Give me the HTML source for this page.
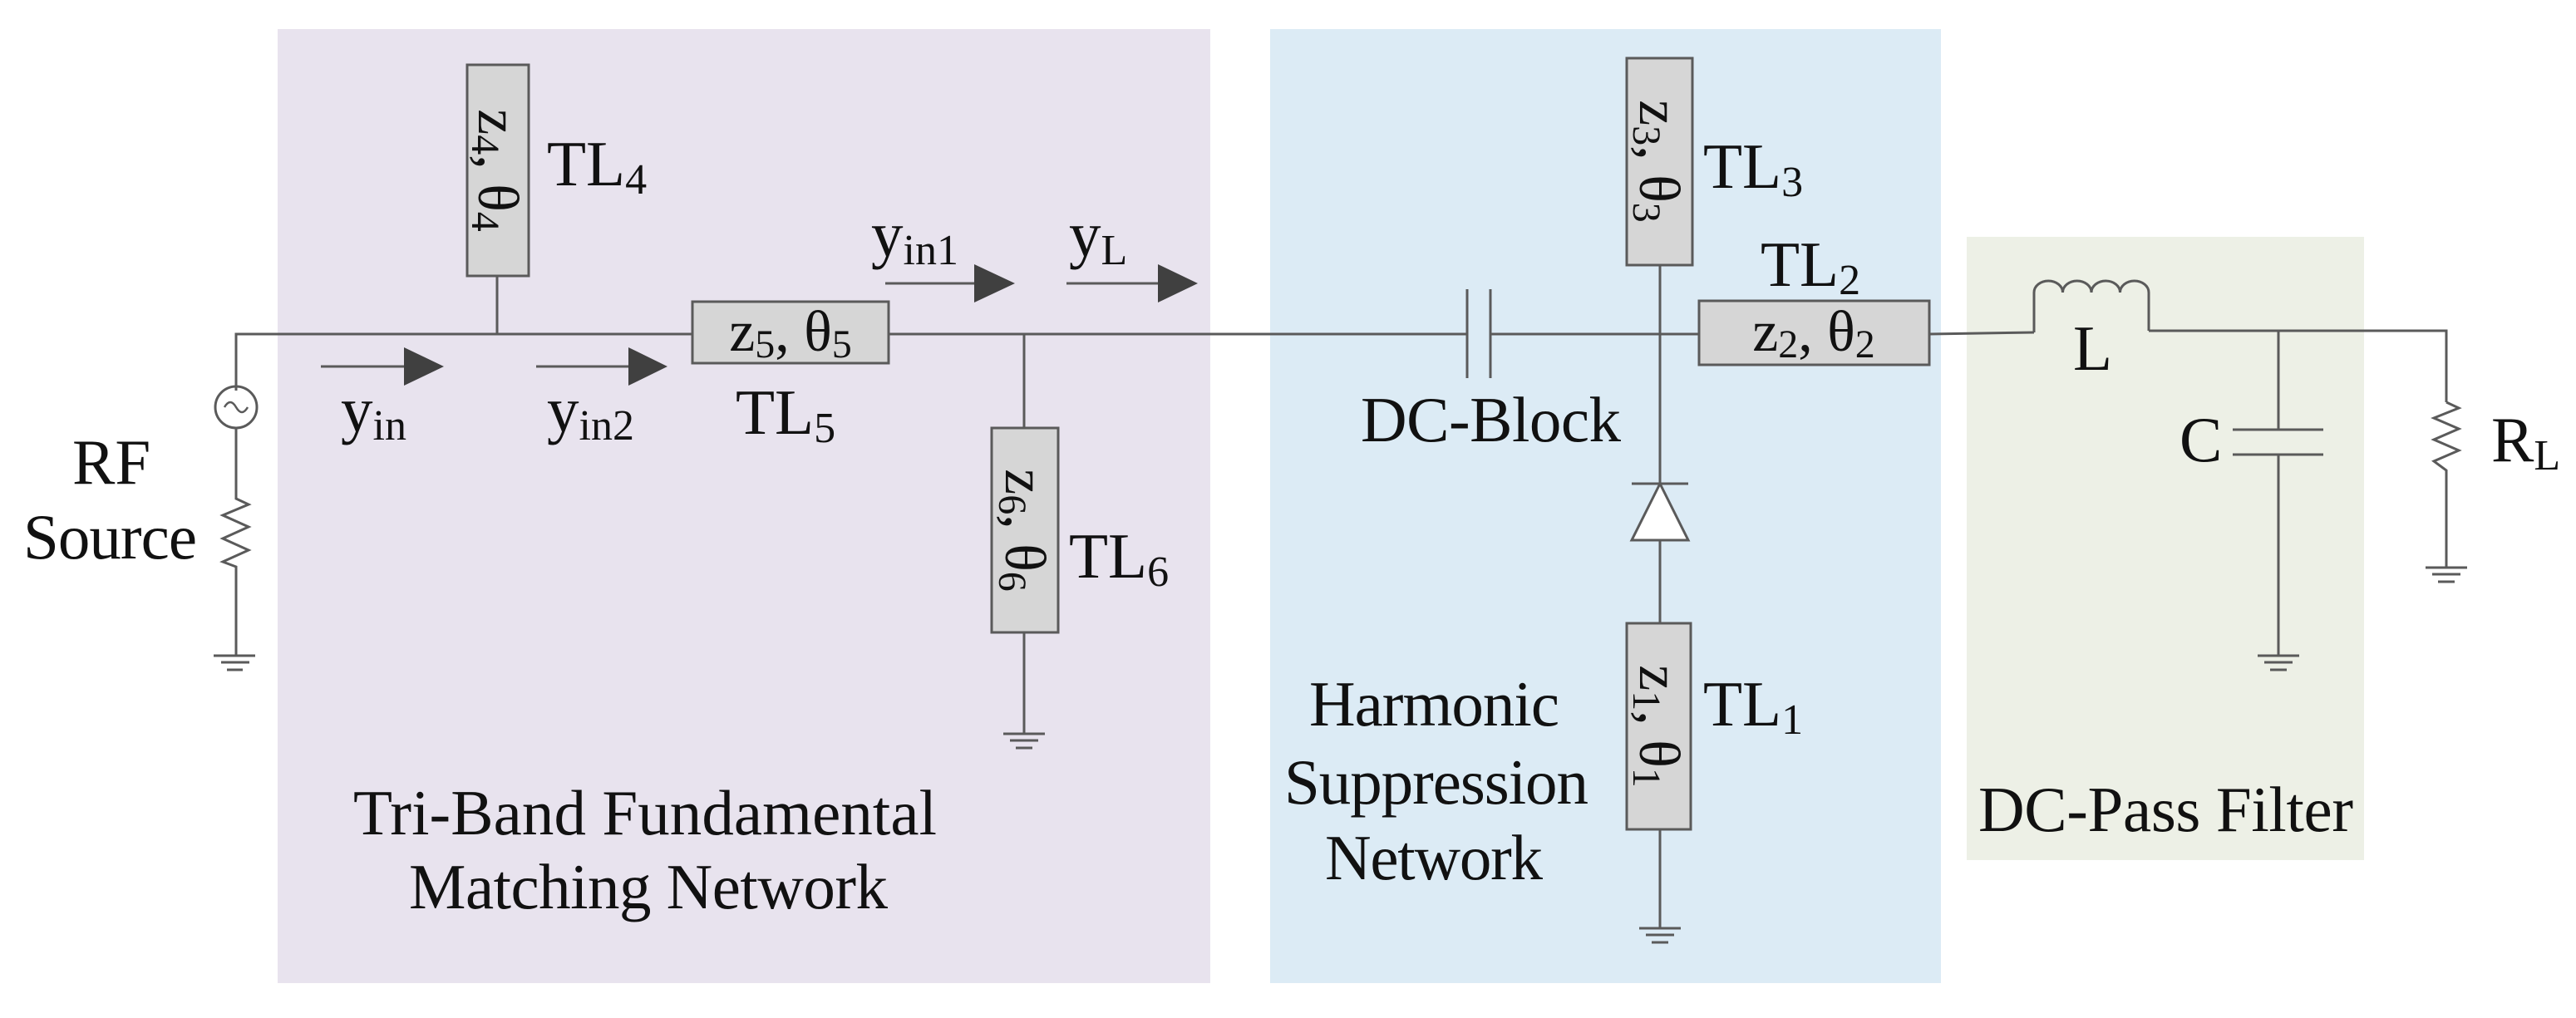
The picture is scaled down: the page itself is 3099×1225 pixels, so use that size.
<!DOCTYPE html>
<html><head><meta charset="utf-8"><style>
html,body{margin:0;padding:0;background:#fff;}
svg{display:block;}
text{font-family:"Liberation Serif",serif;fill:#111;}
</style></head><body>
<svg width="3099" height="1225" viewBox="0 0 3099 1225" xmlns="http://www.w3.org/2000/svg">
<rect x="334" y="35" width="1122" height="1148" fill="#e8e3ee"/>
<rect x="1528" y="35" width="807" height="1148" fill="#dcebf5"/>
<rect x="2366" y="285" width="478" height="750" fill="#edf0e6"/>

<g stroke="#5a5a5a" stroke-width="3" fill="none">
<!-- main line -->
<polyline points="284,470 284,402 833,402"/>
<line x1="1069" y1="402" x2="1765" y2="402"/>
<line x1="1793" y1="402" x2="2044" y2="402"/>
<polyline points="2321,402 2447,400"/>
<polyline points="2585,398 2943,398 2943,484"/>
<!-- source -->
<circle cx="284" cy="490" r="25"/>
<path d="M270,490 q7,-12 14,0 q7,12 14,0" stroke-width="2.5"/>
<polyline points="284,515 284,600 299,607 268,620 299,634 268,648 299,662 268,676 284,682 284,789"/>
<line x1="257" y1="789" x2="307" y2="789"/><line x1="266" y1="797" x2="300" y2="797"/><line x1="273" y1="806" x2="292" y2="806"/>
<!-- TL4 stub -->
<line x1="598" y1="332" x2="598" y2="402"/>
<!-- TL6 stub -->
<line x1="1232" y1="402" x2="1232" y2="515"/>
<line x1="1232" y1="761" x2="1232" y2="883"/>
<line x1="1207" y1="883" x2="1257" y2="883"/><line x1="1215" y1="891" x2="1249" y2="891"/><line x1="1222" y1="900" x2="1242" y2="900"/>
<!-- DC block -->
<line x1="1765" y1="348" x2="1765" y2="455"/><line x1="1793" y1="348" x2="1793" y2="455"/>
<!-- vertical through TL3, diode, TL1 -->
<line x1="1997" y1="319" x2="1997" y2="750"/>
<line x1="1997" y1="998" x2="1997" y2="1117"/>
<line x1="1972" y1="1117" x2="2022" y2="1117"/><line x1="1980" y1="1125" x2="2014" y2="1125"/><line x1="1987" y1="1134" x2="2007" y2="1134"/>
<line x1="1963" y1="582" x2="2031" y2="582"/>
<polygon points="1997,582 1963,650 2031,650" fill="#fff"/>
<!-- inductor -->
<path d="M2447,400 L2447,352 a17.25,14 0 0 1 34.5,0 a17.25,14 0 0 1 34.5,0 a17.25,14 0 0 1 34.5,0 a17.25,14 0 0 1 34.5,0 L2585,398"/>
<!-- C -->
<line x1="2741" y1="398" x2="2741" y2="517"/>
<line x1="2686" y1="517" x2="2795" y2="517"/>
<line x1="2686" y1="547" x2="2795" y2="547"/>
<line x1="2741" y1="547" x2="2741" y2="789"/>
<line x1="2716" y1="789" x2="2766" y2="789"/><line x1="2724" y1="797" x2="2758" y2="797"/><line x1="2731" y1="806" x2="2751" y2="806"/>
<!-- RL -->
<polyline points="2943,484 2958,491 2928,503 2958,516 2928,529 2958,542 2928,555 2943,566 2943,683"/>
<line x1="2918" y1="683" x2="2968" y2="683"/><line x1="2926" y1="691" x2="2960" y2="691"/><line x1="2933" y1="700" x2="2953" y2="700"/>
<!-- arrows -->
<line x1="386" y1="441" x2="490" y2="441"/>
<line x1="645" y1="441" x2="760" y2="441"/>
<line x1="1065" y1="341" x2="1175" y2="341"/>
<line x1="1283" y1="341" x2="1395" y2="341"/>
</g>
<g fill="#404040">
<polygon points="486,418 534,441 486,464"/>
<polygon points="756,418 803,441 756,464"/>
<polygon points="1172,318 1221,341 1172,364"/>
<polygon points="1393,318 1441,341 1393,364"/>
</g>

<!-- TL boxes -->
<g fill="#d6d6d6" stroke="#5a5a5a" stroke-width="3">
<rect x="562" y="78" width="74" height="254"/>
<rect x="833" y="363" width="236" height="74"/>
<rect x="1193" y="515" width="80" height="246"/>
<rect x="1957" y="70" width="79" height="249"/>
<rect x="2044" y="362" width="277" height="77"/>
<rect x="1957" y="750" width="77" height="248"/>
</g>

<g font-size="77">
<text x="951" y="422" text-anchor="middle" font-size="70">z<tspan font-size="48" dy="8">5</tspan><tspan dy="-8">, θ</tspan><tspan font-size="48" dy="8">5</tspan></text>
<text x="2182" y="422" text-anchor="middle" font-size="70">z<tspan font-size="48" dy="8">2</tspan><tspan dy="-8">, θ</tspan><tspan font-size="48" dy="8">2</tspan></text>
<text transform="translate(576,205) rotate(90)" text-anchor="middle" font-size="70">z<tspan font-size="48" dy="8">4</tspan><tspan dy="-8">, θ</tspan><tspan font-size="48" dy="8">4</tspan></text>
<text transform="translate(1210,638) rotate(90)" text-anchor="middle" font-size="70">z<tspan font-size="48" dy="8">6</tspan><tspan dy="-8">, θ</tspan><tspan font-size="48" dy="8">6</tspan></text>
<text transform="translate(1973,194) rotate(90)" text-anchor="middle" font-size="70">z<tspan font-size="48" dy="8">3</tspan><tspan dy="-8">, θ</tspan><tspan font-size="48" dy="8">3</tspan></text>
<text transform="translate(1973,874) rotate(90)" text-anchor="middle" font-size="70">z<tspan font-size="48" dy="8">1</tspan><tspan dy="-8">, θ</tspan><tspan font-size="48" dy="8">1</tspan></text>

<text x="658" y="223">TL<tspan font-size="52" dy="10">4</tspan></text>
<text x="885" y="522">TL<tspan font-size="52" dy="10">5</tspan></text>
<text x="1286" y="695">TL<tspan font-size="52" dy="10">6</tspan></text>
<text x="2049" y="226">TL<tspan font-size="52" dy="10">3</tspan></text>
<text x="2118" y="344">TL<tspan font-size="52" dy="10">2</tspan></text>
<text x="2049" y="873">TL<tspan font-size="52" dy="10">1</tspan></text>

<text x="410" y="519">y<tspan font-size="52" dy="10">in</tspan></text>
<text x="658" y="519">y<tspan font-size="52" dy="10">in2</tspan></text>
<text x="1048" y="308">y<tspan font-size="52" dy="10">in1</tspan></text>
<text x="1286" y="308">y<tspan font-size="52" dy="10">L</tspan></text>

<text x="87" y="582">RF</text>
<text x="28" y="672" textLength="209">Source</text>
<text x="425" y="1004" textLength="702">Tri-Band Fundamental</text>
<text x="492" y="1093" textLength="576">Matching Network</text>
<text x="1637" y="531" textLength="313">DC-Block</text>
<text x="1575" y="873" textLength="301">Harmonic</text>
<text x="1545" y="967" textLength="366">Suppression</text>
<text x="1594" y="1058" textLength="262">Network</text>
<text x="2494" y="445">L</text>
<text x="2622" y="555">C</text>
<text x="2997" y="555">R<tspan font-size="52" dy="10">L</tspan></text>
<text x="2380" y="1000" textLength="451">DC-Pass Filter</text>
</g>
</svg>
</body></html>
